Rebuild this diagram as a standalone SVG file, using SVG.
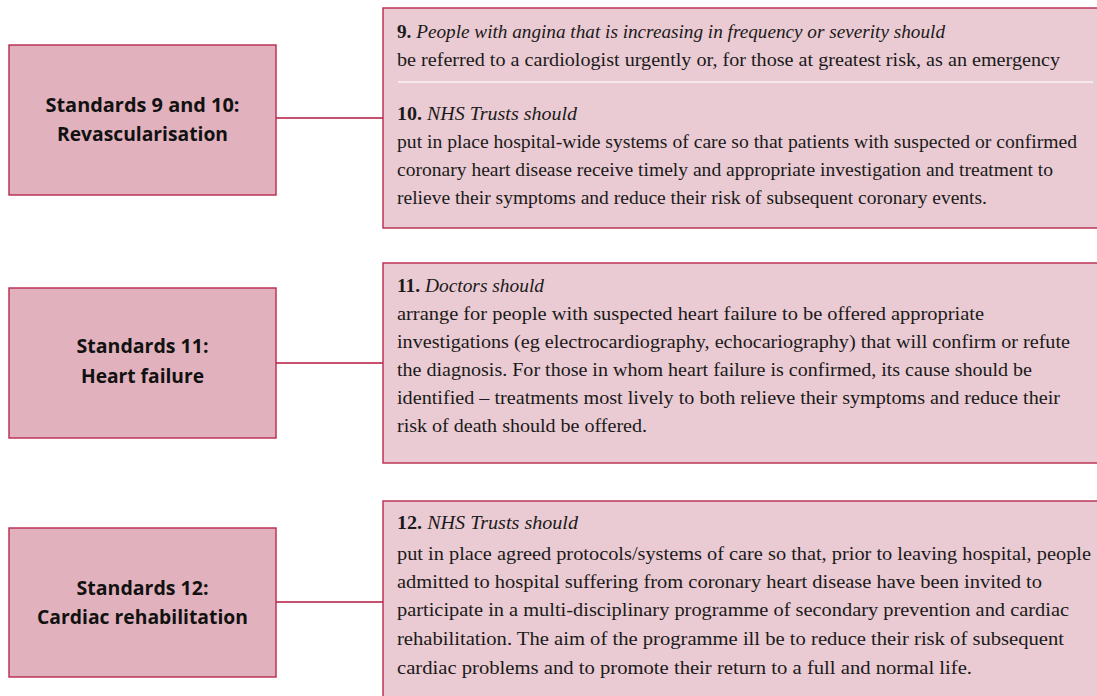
<svg xmlns="http://www.w3.org/2000/svg" width="1097" height="696" viewBox="0 0 1097 696">
<style>
.lbox{fill:#e1b1bd;stroke:#b8284e;stroke-width:1.4}
.rbox{fill:#eacbd3;stroke:#b8284e;stroke-width:1.4}
.conn{stroke:#b3173f;stroke-width:1.4;fill:none}
.sep{stroke:#f7e8ec;stroke-width:2}
.title{font-family:"Open Sans","Liberation Sans",sans-serif;font-weight:bold;font-size:19px;fill:#111;text-anchor:middle}
.body{font-family:"Liberation Serif","DejaVu Serif",serif;font-size:19px;fill:#1a1a1a}
.num{font-weight:bold}
.it{font-style:italic}
</style>
<rect width="1097" height="696" fill="#ffffff"/>
<g id="connectors">
<line class="conn" x1="276" y1="118" x2="383" y2="118"/>
<line class="conn" x1="276" y1="363" x2="383" y2="363"/>
<line class="conn" x1="276" y1="602" x2="383" y2="602"/>
</g>
<g id="rev">
<rect class="lbox" x="9" y="45" width="267" height="150"/>
<text class="title" x="142.5" y="112" textLength="194" lengthAdjust="spacingAndGlyphs">Standards 9 and 10:</text>
<text class="title" x="142.5" y="141" textLength="171" lengthAdjust="spacingAndGlyphs">Revascularisation</text>
</g>
<g id="std910">
<rect class="rbox" x="383" y="8" width="720" height="220"/>
<line class="sep" x1="398" y1="82" x2="1093" y2="82"/>
<text class="body" x="397" y="38" textLength="548" lengthAdjust="spacingAndGlyphs"><tspan class="num">9.</tspan> <tspan class="it">People with angina that is increasing in frequency or severity should</tspan></text>
<text class="body" x="397" y="65.5" textLength="663" lengthAdjust="spacingAndGlyphs">be referred to a cardiologist urgently or, for those at greatest risk, as an emergency</text>
<text class="body" x="397" y="120" textLength="180" lengthAdjust="spacingAndGlyphs"><tspan class="num">10.</tspan> <tspan class="it">NHS Trusts should</tspan></text>
<text class="body" x="397" y="148" textLength="680" lengthAdjust="spacingAndGlyphs">put in place hospital-wide systems of care so that patients with suspected or confirmed</text>
<text class="body" x="397" y="176" textLength="656" lengthAdjust="spacingAndGlyphs">coronary heart disease receive timely and appropriate investigation and treatment to</text>
<text class="body" x="397" y="204" textLength="590" lengthAdjust="spacingAndGlyphs">relieve their symptoms and reduce their risk of subsequent coronary events.</text>
</g>
<g id="hf">
<rect class="lbox" x="9" y="288" width="267" height="150"/>
<text class="title" x="142.5" y="353" textLength="132" lengthAdjust="spacingAndGlyphs">Standards 11:</text>
<text class="title" x="142.5" y="383" textLength="123" lengthAdjust="spacingAndGlyphs">Heart failure</text>
</g>
<g id="std11">
<rect class="rbox" x="383" y="263" width="720" height="200"/>
<text class="body" x="397" y="292" textLength="147" lengthAdjust="spacingAndGlyphs"><tspan class="num">11.</tspan> <tspan class="it">Doctors should</tspan></text>
<text class="body" x="397" y="320" textLength="587" lengthAdjust="spacingAndGlyphs">arrange for people with suspected heart failure to be offered appropriate</text>
<text class="body" x="397" y="348" textLength="673" lengthAdjust="spacingAndGlyphs">investigations (eg electrocardiography, echocariography) that will confirm or refute</text>
<text class="body" x="397" y="376" textLength="635" lengthAdjust="spacingAndGlyphs">the diagnosis. For those in whom heart failure is confirmed, its cause should be</text>
<text class="body" x="397" y="404" textLength="663" lengthAdjust="spacingAndGlyphs">identified – treatments most lively to both relieve their symptoms and reduce their</text>
<text class="body" x="397" y="432" textLength="250" lengthAdjust="spacingAndGlyphs">risk of death should be offered.</text>
</g>
<g id="cr">
<rect class="lbox" x="9" y="528" width="267" height="149"/>
<text class="title" x="142.5" y="595" textLength="132" lengthAdjust="spacingAndGlyphs">Standards 12:</text>
<text class="title" x="142.5" y="624" textLength="211" lengthAdjust="spacingAndGlyphs">Cardiac rehabilitation</text>
</g>
<g id="std12">
<rect class="rbox" x="383" y="501" width="720" height="210"/>
<text class="body" x="397" y="529" textLength="181" lengthAdjust="spacingAndGlyphs"><tspan class="num">12.</tspan> <tspan class="it">NHS Trusts should</tspan></text>
<text class="body" x="397" y="560" textLength="694" lengthAdjust="spacingAndGlyphs">put in place agreed protocols/systems of care so that, prior to leaving hospital, people</text>
<text class="body" x="397" y="588" textLength="645" lengthAdjust="spacingAndGlyphs">admitted to hospital suffering from coronary heart disease have been invited to</text>
<text class="body" x="397" y="616" textLength="672" lengthAdjust="spacingAndGlyphs">participate in a multi-disciplinary programme of secondary prevention and cardiac</text>
<text class="body" x="397" y="645" textLength="667" lengthAdjust="spacingAndGlyphs">rehabilitation. The aim of the programme ill be to reduce their risk of subsequent</text>
<text class="body" x="397" y="674" textLength="575" lengthAdjust="spacingAndGlyphs">cardiac problems and to promote their return to a full and normal life.</text>
</g>
</svg>
